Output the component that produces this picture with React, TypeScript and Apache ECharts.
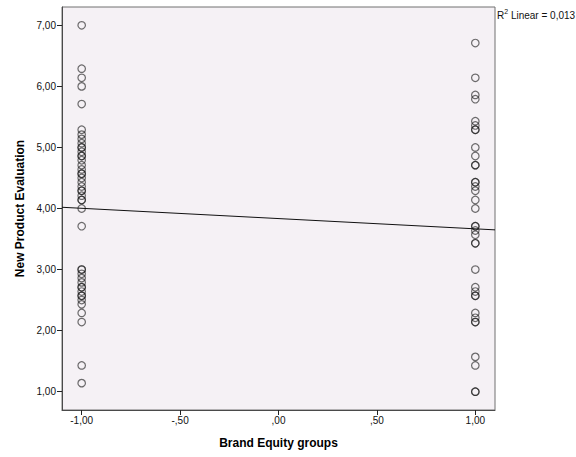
import React, { useEffect, useRef } from "react";
import * as echarts from "echarts";

// Brand Equity group codes
const lowGroupX = -1;
const highGroupX = 1;

// New Product Evaluation scores, low brand equity group (x = -1)
const lowGroupScores = [
  7.0, 6.29, 6.14, 6.0, 5.71,
  5.29, 5.21, 5.14, 5.07, 5.0, 5.0, 4.93, 4.86, 4.86, 4.79, 4.71, 4.64, 4.57, 4.57,
  4.5, 4.43, 4.36, 4.29, 4.29, 4.21, 4.14, 4.14, 4.0,
  3.71,
  3.0, 3.0, 2.93, 2.86, 2.79, 2.71, 2.71, 2.64, 2.57, 2.57, 2.5, 2.43, 2.29, 2.14,
  1.43, 1.14,
];

// New Product Evaluation scores, high brand equity group (x = 1)
const highGroupScores = [
  6.71, 6.14, 5.86, 5.79, 5.43, 5.36, 5.29, 5.29, 5.0,
  4.86, 4.71, 4.71, 4.43, 4.43, 4.36, 4.29, 4.14, 4.0,
  3.71, 3.71, 3.64, 3.57, 3.43, 3.43,
  3.0, 2.71, 2.64, 2.57, 2.57, 2.29, 2.21, 2.14, 2.14,
  1.57, 1.43, 1.0, 1.0,
];

// Linear fit line, endpoints at the plot edges
const fitLineX = [-1.1, 1.1];
const fitLineY = [4.02, 3.65];
const rSquaredText = "0,013";

// Tick positions
const xTicks = [-1, -0.5, 0, 0.5, 1];
const yTicks = [1, 2, 3, 4, 5, 6, 7];

const fmt = (v: number) => {
  let s = Math.abs(v).toFixed(2).replace(".", ",");
  if (Math.abs(v) < 1) s = s.replace(/^0/, "");
  return (v < 0 ? "-" : "") + s;
};

export default function App() {
  const ref = useRef<HTMLDivElement>(null);

  useEffect(() => {
    if (!ref.current) return;
    const chart = echarts.init(ref.current, null, { renderer: "svg" });

    const points = [
      ...lowGroupScores.map((y) => [lowGroupX, y]),
      ...highGroupScores.map((y) => [highGroupX, y]),
    ];

    const font = "'Liberation Sans', Arial, sans-serif";

    chart.setOption({
      animation: false,
      backgroundColor: "#ffffff",
      textStyle: { fontFamily: font },
      grid: {
        left: 62,
        right: 81,
        top: 7,
        bottom: 47,
        show: true,
        backgroundColor: "#f5f1f5",
        borderColor: "#707070",
        borderWidth: 1,
      },
      xAxis: {
        type: "value",
        min: -1.1,
        max: 1.1,
        name: "Brand Equity groups",
        nameLocation: "middle",
        nameGap: 27,
        nameTextStyle: { fontFamily: font, fontSize: 12, fontWeight: "bold", color: "#000" },
        axisLine: { show: true, onZero: false, lineStyle: { color: "#4a4a4a", width: 1 } },
        axisTick: {
          show: true,
          length: 5,
          customValues: xTicks,
          lineStyle: { color: "#222" },
        },
        axisLabel: {
          customValues: xTicks,
          formatter: (v: number) => fmt(v),
          fontSize: 10,
          color: "#111",
          margin: 5,
          fontFamily: font,
        },
        splitLine: { show: false },
      },
      yAxis: {
        type: "value",
        min: 0.7,
        max: 7.3,
        name: "New Product Evaluation",
        nameLocation: "middle",
        nameGap: 36,
        nameRotate: 90,
        nameTextStyle: { fontFamily: font, fontSize: 12, fontWeight: "bold", color: "#000" },
        axisLine: { show: true, onZero: false, lineStyle: { color: "#4a4a4a", width: 1 } },
        axisTick: {
          show: true,
          length: 5,
          customValues: yTicks,
          lineStyle: { color: "#222" },
        },
        axisLabel: {
          customValues: yTicks,
          formatter: (v: number) => fmt(v),
          fontSize: 10,
          color: "#111",
          margin: 6,
          fontFamily: font,
        },
        splitLine: { show: false },
      },
      series: [
        {
          type: "scatter",
          data: points,
          symbol: "circle",
          symbolSize: 7.5,
          itemStyle: {
            color: "rgba(0,0,0,0)",
            borderColor: "rgba(25,25,25,0.78)",
            borderWidth: 1.2,
          },
          z: 3,
        },
        {
          type: "line",
          data: fitLineX.map((x, i) => [x, fitLineY[i]]),
          symbol: "none",
          lineStyle: { color: "#111", width: 1 },
          z: 4,
        },
      ],
      graphic: [
        {
          type: "text",
          left: 497,
          top: 8,
          style: {
            text: "{r|R}{s|2}{r| Linear = " + rSquaredText + "}",
            rich: {
              r: { fontSize: 10, fontFamily: font, fill: "#111", verticalAlign: "bottom", lineHeight: 12 },
              s: { fontSize: 7, fontFamily: font, fill: "#111", verticalAlign: "top", lineHeight: 12 },
            },
          },
        },
      ],
    });

    return () => chart.dispose();
  }, []);

  return (
    <div
      ref={ref}
      style={{ position: "fixed", left: 0, top: 0, width: 576, height: 457 }}
    />
  );
}
